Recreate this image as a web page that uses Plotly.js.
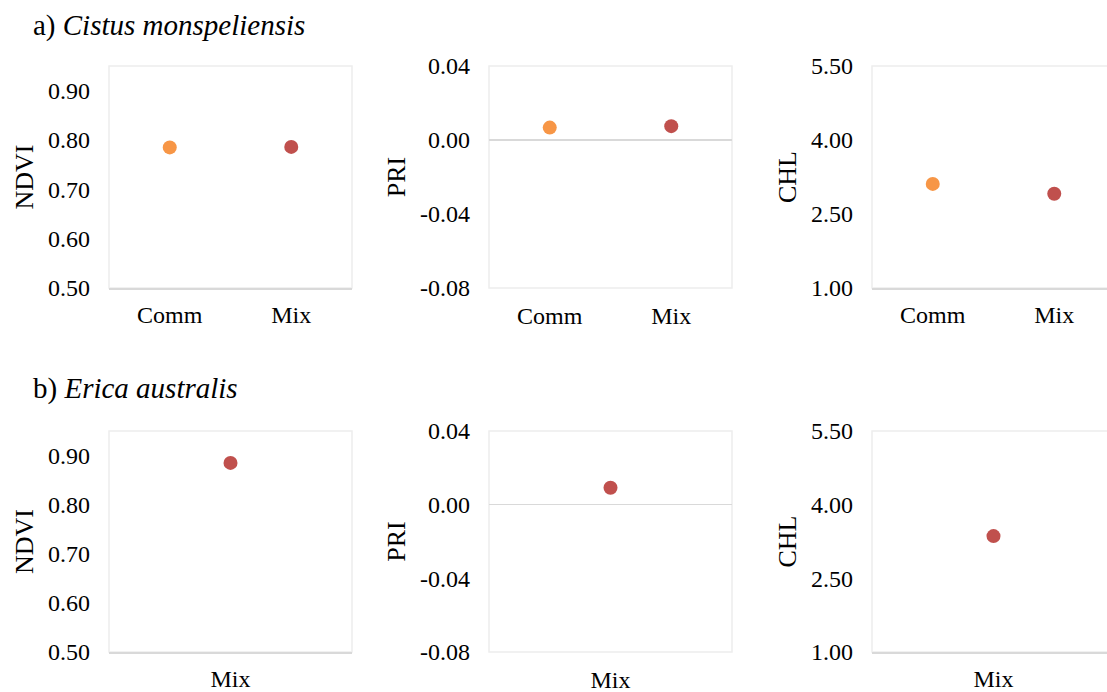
<!DOCTYPE html>
<html>
<head>
<meta charset="utf-8">
<script src="https://cdn.plot.ly/plotly-3.0.1.min.js"></script>
<style>
html,body{margin:0;padding:0;overflow:hidden;background:#fff;}
#chart{width:1115px;height:692px;}
</style>
</head>
<body>
<div id="chart"></div>
<script>
// ---- data ----
const groupsA = ['Comm', 'Mix'];
const ndviA = [0.785, 0.786];
const priA = [0.0067, 0.0075];
const chlA = [3.11, 2.91];

const groupsB = ['Mix'];
const ndviB = [0.885];
const priB = [0.0092];
const chlB = [3.36];

const variables = ['NDVI', 'PRI', 'CHL'];
const yRanges = [[0.5, 0.95], [-0.08, 0.04], [1.0, 5.5]];
const ndviTicks = [0.5, 0.6, 0.7, 0.8, 0.9];
const priTicks = [-0.08, -0.04, 0.0, 0.04];
const chlTicks = [1.0, 2.5, 4.0, 5.5];
const yTickLists = [ndviTicks, priTicks, chlTicks];
const panelTitles = ['a) <i>Cistus monspeliensis</i>', 'b) <i>Erica australis</i>'];
const groupColors = {Comm: '#F79646', Mix: '#C0504D'};

// ---- layout helpers ----
const W = 1115, H = 692;
const FONT = 'Liberation Serif';
const FS = 24;
const colPx = [[109, 352], [489, 732], [872, 1115]];
const rowPx = [[66, 288], [431, 652]];

const rows = [
  {groups: groupsA, vals: [ndviA, priA, chlA]},
  {groups: groupsB, vals: [ndviB, priB, chlB]}
];

const traces = [];
const layout = {
  width: W, height: H,
  margin: {l: 0, r: 0, t: 0, b: 0},
  paper_bgcolor: '#fff', plot_bgcolor: '#fff',
  showlegend: false,
  font: {family: FONT, size: FS, color: '#000'},
  shapes: [], annotations: []
};

let idx = 0;
rows.forEach((row, r) => {
  variables.forEach((v, c) => {
    idx++;
    const xa = 'x' + (idx === 1 ? '' : idx);
    const ya = 'y' + (idx === 1 ? '' : idx);
    traces.push({
      type: 'scatter', mode: 'markers',
      x: row.groups, y: row.vals[c],
      xaxis: xa, yaxis: ya,
      marker: {size: 14, color: row.groups.map(g => groupColors[g])},
      hoverinfo: 'x+y'
    });
    const isPRI = v === 'PRI';
    layout['xaxis' + (idx === 1 ? '' : idx)] = {
      domain: [colPx[c][0] / W, colPx[c][1] / W],
      anchor: ya,
      type: 'category',
      categoryorder: 'array', categoryarray: row.groups,
      range: [-0.5, row.groups.length - 0.5],
      showgrid: false, zeroline: false,
      showline: !isPRI, linecolor: '#D9D9D9', linewidth: 1.5,
      ticks: '', ticklabelstandoff: isPRI ? 11 : 5,
      tickfont: {family: FONT, size: FS, color: '#000'},
      fixedrange: true
    };
    const tv = yTickLists[c];
    layout['yaxis' + (idx === 1 ? '' : idx)] = {
      domain: [(H - rowPx[r][1]) / H, (H - rowPx[r][0]) / H],
      anchor: xa,
      range: yRanges[c],
      tickmode: 'array', tickvals: tv,
      ticktext: tv.map(t => t.toFixed(2)),
      showgrid: false,
      zeroline: isPRI, zerolinecolor: '#D9D9D9', zerolinewidth: 1.5,
      showline: false, ticks: '', ticklabelstandoff: 18,
      tickfont: {family: FONT, size: FS, color: '#000'},
      title: {text: v, font: {family: FONT, size: 26, color: '#000'}, standoff: 6},
      fixedrange: true
    };
    layout.shapes.push({
      type: 'rect', xref: xa + ' domain', yref: ya + ' domain',
      x0: 0, x1: 1, y0: 0, y1: 1,
      line: {color: '#EDEDED', width: 1.5}, layer: 'below'
    });
  });
});

// panel titles
[25, 388].forEach((yc, i) => {
  layout.annotations.push({
    text: panelTitles[i], xref: 'paper', yref: 'paper',
    x: 33 / W, y: 1 - yc / H, xanchor: 'left', yanchor: 'middle', xshift: -2,
    showarrow: false, font: {family: FONT, size: 29, color: '#000'}
  });
});

Plotly.newPlot('chart', traces, layout, {displayModeBar: false, staticPlot: true});
</script>
</body>
</html>
